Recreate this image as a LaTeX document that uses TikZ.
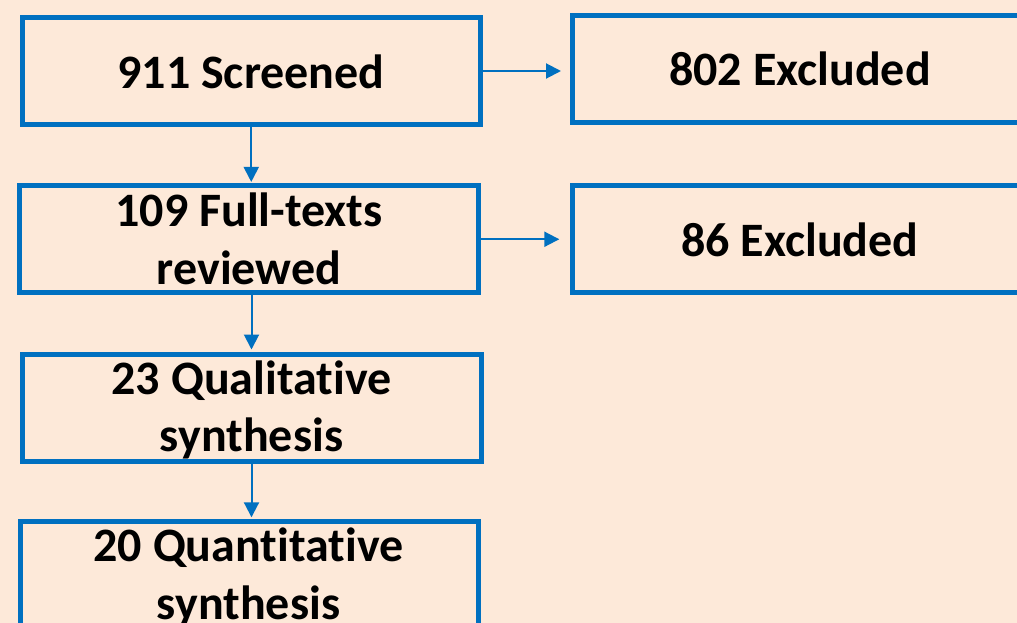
\documentclass[tikz,border=0pt]{standalone}
\usepackage{fontspec}
\setmainfont{Carlito}[Ligatures={NoCommon,NoContextual}]
\usetikzlibrary{arrows.meta}
\definecolor{bg}{RGB}{253,233,217}
\definecolor{bl}{RGB}{0,112,192}
\begin{document}
\begin{tikzpicture}[x=1pt,y=-1pt,
  box/.style={draw=bl,line width=5pt,minimum width=#1,minimum height=107pt,inner sep=0pt},
  lbl/.style={font=\fontsize{48}{57.5}\selectfont\bfseries,anchor=base,align=center,inner sep=0pt},
  conn/.style={draw=bl,line width=2pt,-{Triangle[length=15pt,width=15pt]}}]
\fill[bg] (0,0) rectangle (1017,623);
\useasboundingbox (0,0) rectangle (1017,623);
\clip (0,0) rectangle (1017,623);
\node[box=457.5pt] (s) at (251.25,71) {};
\node[box=459pt] (f) at (249,239.25) {};
\node[box=459pt] (q) at (251.5,407.5) {};
\node[box=458pt] (n) at (249,575.3) {};
\node[box=456pt] (e1) at (800,68.75) {};
\node[box=456pt] (e2) at (800,239.15) {};
\node[lbl] (ts) at (251,88.3) {911 Screened};
\node[lbl] (tf) at (249,284) {109 Full-texts\\reviewed};
\node[lbl] (tq) at (251.5,451.7) {23 Qualitative\\synthesis};
\node[lbl] (tn) at (248.5,619) {20 Quantitative\\synthesis};
\node[lbl] (te1) at (800,86) {802 Excluded};
\node[lbl] (te2) at (800,256) {86 Excluded};
\draw[conn,shorten >=1.3pt] (s.south) -- (s.south |- f.north);
\draw[conn,shorten >=2pt] (q.north |- f.south) -- (q.north);
\draw[conn,shorten >=2pt] (q.south) -- (q.south |- n.north);
\draw[conn,shorten >=8.5pt] (s.east) -- (s.east -| e1.west);
\draw[conn,shorten >=10.2pt] (f.east) -- (f.east -| e2.west);
\end{tikzpicture}
\end{document}
